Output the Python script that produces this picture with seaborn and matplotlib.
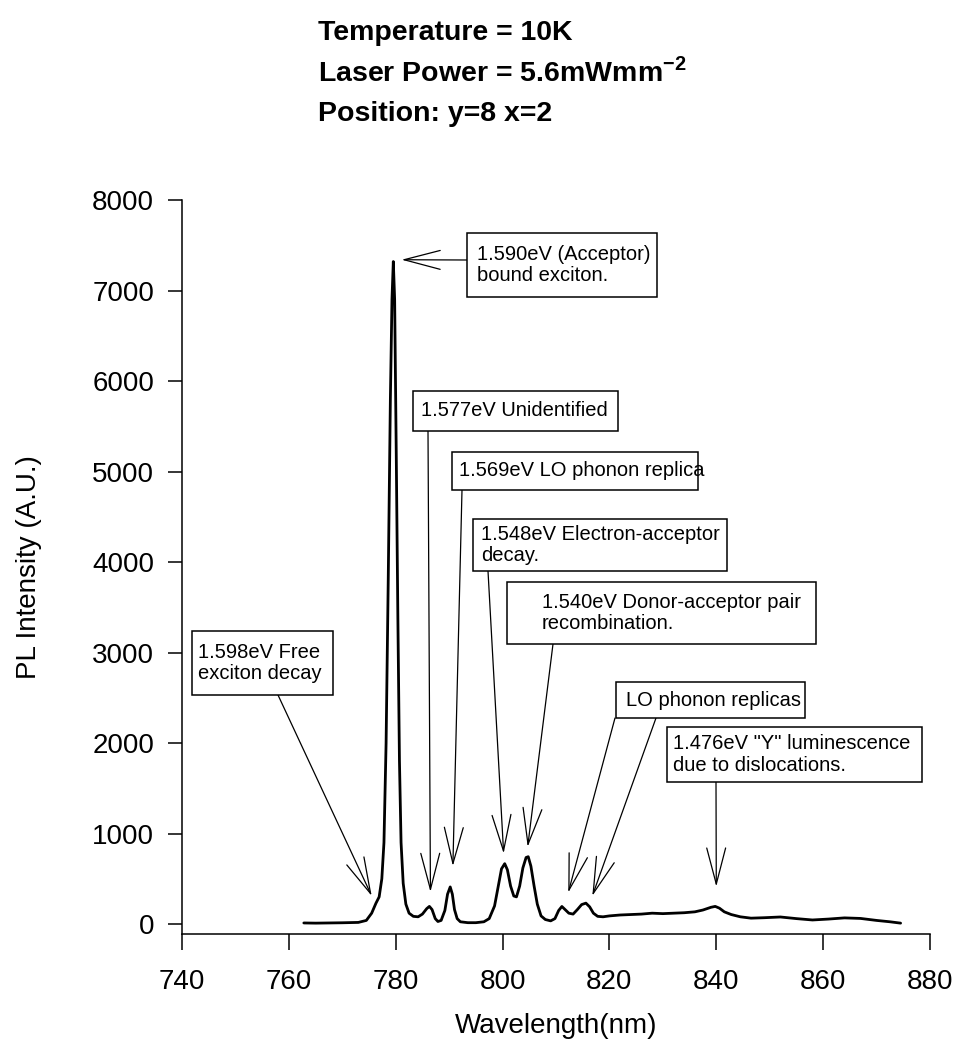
import matplotlib
matplotlib.use('Agg')
import matplotlib.pyplot as plt
import seaborn as sns
import pandas as pd
from matplotlib.patches import Rectangle
from matplotlib.transforms import Affine2D

# PL spectrum (nm, A.U.)
wavelength = [762.8, 765.0, 770.0, 773.0, 774.5, 775.5, 776.3, 776.9, 777.4, 777.8,
              778.2, 778.6, 779.0, 779.3, 779.55, 779.8, 780.1, 780.4, 780.7, 781.0,
              781.4, 781.9, 782.5, 783.3, 784.2, 785.0, 785.8, 786.3, 786.8, 787.4,
              787.9, 788.5, 789.2, 789.7, 790.2, 790.6, 791.0, 791.5, 792.1, 793.5,
              795.0, 796.5, 797.5, 798.5, 799.2, 799.8, 800.4, 800.9, 801.5, 802.1,
              802.6, 803.2, 803.8, 804.4, 804.8, 805.3, 805.9, 806.5, 807.2, 808.0,
              809.0, 809.8, 810.5, 811.1, 811.7, 812.4, 813.2, 814.0, 814.8, 815.6,
              816.3, 817.0, 817.8, 818.8, 820.0, 822.0, 824.0, 826.0, 828.0, 830.0,
              832.0, 834.0, 836.0, 837.5, 839.0, 839.8, 840.6, 841.5, 842.8, 844.5,
              846.5, 849.0, 852.0, 855.0, 858.0, 861.0, 864.0, 867.0, 870.0, 872.5,
              874.5]
intensity = [12, 10, 14, 18, 40, 120, 230, 300, 500, 900,
             2000, 3800, 5800, 6900, 7320, 6900, 5200, 3400, 1800, 900,
             450, 220, 120, 85, 80, 110, 170, 195, 160, 60,
             28, 40, 150, 330, 410, 330, 160, 60, 25, 15,
             15, 25, 60, 200, 420, 610, 667, 600, 420, 310,
             300, 420, 620, 735, 744, 640, 420, 220, 90, 50,
             35, 60, 150, 194, 160, 120, 110, 160, 215, 231,
             190, 120, 85, 80, 90, 100, 105, 110, 120, 115,
             120, 125, 135, 155, 185, 195, 175, 135, 105, 80,
             65, 70, 78, 60, 45, 55, 68, 62, 40, 25,
             10]

# annotation texts and where their arrows point (nm, A.U.)
labels = ['1.598eV Free\nexciton decay',
          '1.590eV (Acceptor)\nbound exciton.',
          '1.577eV Unidentified',
          '1.569eV LO phonon replica',
          '1.548eV Electron-acceptor\ndecay.',
          '1.540eV Donor-acceptor pair\nrecombination.',
          'LO phonon replicas',
          '1.476eV "Y" luminescence\ndue to dislocations.']
tip_wl = [[775.5], [781.1], [786.5], [790.7], [800.2], [804.7], [812.3, 816.8], [840.0]]
tip_val = [[311], [7340], [355], [641], [780], [853], [348, 311], [414]]

# box layout in figure pixels (left, top, right, bottom), text offset, arrow starts
boxes = [(192, 631, 333, 695), (467, 233, 657, 297), (413, 391, 618, 431),
         (452, 452, 698, 490), (473, 519, 727, 571), (507, 582, 816, 644),
         (616, 682, 805, 718), (667, 727, 922, 782)]
text_pad = [6, 10, 8, 7, 8, 35, 10, 6]
starts = [[(278, 695)], [(467, 260)], [(428, 431)], [(462, 490)], [(488, 571)],
          [(553, 644)], [(615, 718), (656, 718)], [(716, 782)]]

df = pd.DataFrame({'wavelength': wavelength, 'intensity': intensity})

sns.set_style('ticks')
plt.rcParams['font.family'] = ['Liberation Sans', 'DejaVu Sans']
plt.rcParams['text.color'] = 'black'
plt.rcParams['axes.labelcolor'] = 'black'
plt.rcParams['mathtext.fontset'] = 'custom'
plt.rcParams['mathtext.bf'] = 'Liberation Sans:bold'
plt.rcParams['mathtext.rm'] = 'Liberation Sans'

W, H = 959, 1047
fig = plt.figure(figsize=(W / 100, H / 100), dpi=100)
ax = fig.add_axes([182 / W, 113 / H, 748 / W, 734 / H])
px = Affine2D().scale(1 / W, -1 / H).translate(0, 1) + fig.transFigure

sns.lineplot(data=df, x='wavelength', y='intensity', color='black', lw=2.0, ax=ax)

ax.set_xlim(740, 880)
ax.set_ylim(-110, 8000)
ax.set_xticks(range(740, 881, 20))
ax.set_yticks(range(0, 8001, 1000))
ax.tick_params(axis='both', labelsize=20, width=1.1, color='black', labelcolor='black')
ax.tick_params(axis='x', length=11.5, pad=14)
ax.tick_params(axis='y', length=10, pad=10)
for s in ['left', 'bottom']:
    ax.spines[s].set_linewidth(1.1)
    ax.spines[s].set_color('black')
sns.despine(ax=ax)
ax.set_xlabel('Wavelength(nm)', fontsize=20, labelpad=13)
ax.set_ylabel('PL Intensity (A.U.)', fontsize=20, labelpad=36)

# Заголовок
fig.text(318 / W, 1 - 40 / H, 'Temperature = 10K', fontsize=20.5, weight='bold', va='baseline')
fig.text(318 / W, 1 - 81 / H, r'Laser Power = 5.6mWmm$^{\mathbf{-2}}$', fontsize=20.5,
         weight='bold', va='baseline')
fig.text(318 / W, 1 - 121 / H, 'Position: y=8 x=2', fontsize=20.5, weight='bold', va='baseline')

# Подписи пиков со стрелками
arrow = dict(arrowstyle='->,head_length=1.3,head_width=0.34', lw=0.9, color='black',
             shrinkA=0, shrinkB=0, mutation_scale=20)
for lab, box, pad, st, xs, ys in zip(labels, boxes, text_pad, starts, tip_wl, tip_val):
    l, t, r, b = box
    ax.add_patch(Rectangle((l, t), r - l, b - t, transform=px, facecolor='white',
                           edgecolor='black', lw=1.1, zorder=4, clip_on=False))
    ax.text(l + pad, (t + b) / 2, lab, transform=px, fontsize=14.5, va='center',
            ha='left', linespacing=1.15, zorder=5)
    for (sx, sy), x, y in zip(st, xs, ys):
        ax.annotate('', xy=(x, y), xycoords='data', xytext=(sx, sy), textcoords=px,
                    arrowprops=arrow, zorder=3)

plt.savefig('out.png', dpi=100)
